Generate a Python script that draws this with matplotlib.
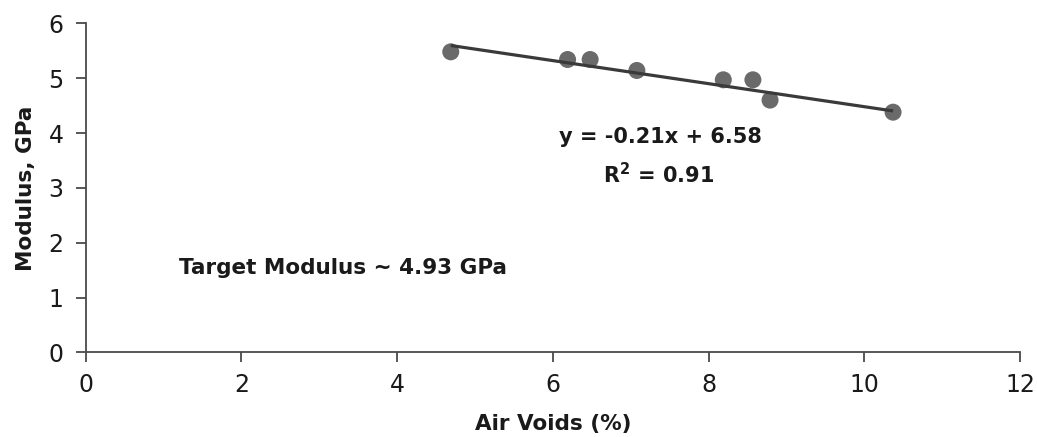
import matplotlib
matplotlib.use("Agg")
import matplotlib.pyplot as plt
import numpy as np

# Measured specimens: air voids (%) and resilient modulus (GPa)
air_voids = [4.69, 6.19, 6.48, 7.08, 8.19, 8.57, 8.79, 10.37]
modulus = [5.48, 5.34, 5.34, 5.14, 4.97, 4.97, 4.60, 4.38]

# Linear trend reported on the chart
slope = -0.21
intercept = 6.58
r_squared = 0.91
target_modulus = 4.93

x_ticks = [0, 2, 4, 6, 8, 10, 12]
y_ticks = [0, 1, 2, 3, 4, 5, 6]

plt.rcParams['font.family'] = ['DejaVu Sans']
plt.rcParams['mathtext.fontset'] = 'dejavusans'

axis_color = '#4a4a4a'
text_color = '#1a1a1a'

fig = plt.figure(figsize=(10.37, 4.37), dpi=100)
ax = fig.add_axes([0.0825, 0.1934, 0.9011, 0.7533])

ax.scatter(air_voids, modulus, s=150, color='#6a6a6a', edgecolors='none', zorder=3)

xs = np.array([min(air_voids), max(air_voids)])
ax.plot(xs, slope * xs + intercept, color='#3a3a3a', lw=2.3, zorder=4,
        solid_capstyle='butt')

ax.set_xlim(0, 12)
ax.set_ylim(0, 6)
ax.set_xticks(x_ticks)
ax.set_yticks(y_ticks)

for side in ('top', 'right'):
    ax.spines[side].set_visible(False)
for side in ('left', 'bottom'):
    ax.spines[side].set_color(axis_color)
    ax.spines[side].set_linewidth(1.3)

ax.tick_params(axis='both', direction='out', length=7.3, width=1.3,
               color=axis_color, labelsize=17, labelcolor=text_color)
ax.tick_params(axis='x', pad=7.5)
ax.tick_params(axis='y', pad=8.5)

ax.set_xlabel('Air Voids (%)', fontsize=15.5, fontweight='bold', color=text_color,
              labelpad=12)
ax.set_ylabel('Modulus, GPa', fontsize=15.5, fontweight='bold', color=text_color,
              labelpad=9)

ax.text(7.38, 3.93, f'y = {slope:.2f}x + {intercept:.2f}', fontsize=15,
        fontweight='bold', ha='center', va='center', color=text_color)
ax.text(7.36, 3.24, r'R$^{\mathbf{2}}$' + f' = {r_squared:.2f}', fontsize=15,
        fontweight='bold', ha='center', va='center', color=text_color)
ax.text(1.2, 1.54, f'Target Modulus ~ {target_modulus:.2f} GPa', fontsize=15.5,
        fontweight='bold', ha='left', va='center', color=text_color)

fig.savefig('out.png', dpi=100)
